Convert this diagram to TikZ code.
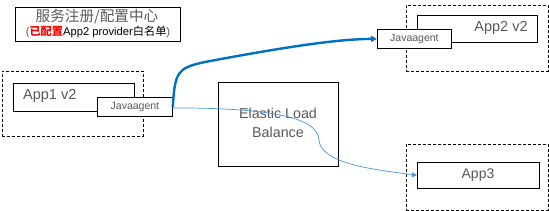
\documentclass[tikz,border=0pt]{standalone}
\usepackage{fontspec}
\setmainfont{Liberation Sans}
\newfontfamily\cjk{Noto Sans CJK SC}
\usetikzlibrary{arrows.meta}
\definecolor{txtgray}{HTML}{595959}
\definecolor{linkblue}{HTML}{0070C0}
\definecolor{thinblue}{HTML}{4A95D6}
\tikzset{
  groupbox/.style={draw=black, line width=0.8pt, dash pattern=on 3pt off 2pt},
  appbox/.style={draw=black, line width=0.8pt, fill=white},
  agentbox/.style={draw=black, line width=0.8pt, fill=white, font=\fontsize{10.5}{12}\selectfont, text=txtgray, inner sep=0pt},
}
\begin{document}
\begin{tikzpicture}[x=1pt,y=-1pt]
\useasboundingbox (0,0) rectangle (549,211);
% title box
\node[draw=black, line width=0.8pt, minimum width=165pt, minimum height=34pt, anchor=north west, inner sep=0pt] (reg) at (15,7) {};
\node[text=txtgray, font=\fontsize{14.6}{15}\selectfont\cjk, inner sep=0pt] (regt) at (97,17) {服务注册/配置中心};
\node[font=\fontsize{11.2}{12}\selectfont, inner sep=0pt] (regs) at (98,32) {\textcolor{txtgray}{(}\textcolor{red}{\cjk\bfseries 已配置}App2 provider{\cjk 白名单}\textcolor{txtgray}{)}};
% App1 group
\node[groupbox, minimum width=141pt, minimum height=65pt, anchor=north west, inner sep=0pt] (g1) at (2,71) {};
\node[appbox, minimum width=121pt, minimum height=28pt, anchor=north west, inner sep=0pt] (a1) at (13,83) {};
\node[text=txtgray, font=\fontsize{14.5}{16}\selectfont, anchor=west, inner sep=0pt] (a1t) at (23,96) {App1 v2};
\node[agentbox, minimum width=75pt, minimum height=19pt, anchor=north west] (j1) at (97,97) {Javaagent};
% App2 group
\node[groupbox, minimum width=142pt, minimum height=66pt, anchor=north west, inner sep=0pt] (g2) at (406,5) {};
\node[appbox, minimum width=120pt, minimum height=27pt, anchor=north west, inner sep=0pt] (a2) at (417,15) {};
\node[text=txtgray, font=\fontsize{14.5}{16}\selectfont, inner sep=0pt] (a2t) at (501,28) {App2 v2};
\node[agentbox, minimum width=74pt, minimum height=19pt, anchor=north west] (j2) at (377,29) {Javaagent};
% ELB
\node[draw=black, line width=0.8pt, minimum width=120pt, minimum height=84pt, anchor=north west, inner sep=0pt] (elb) at (218,82) {};
\node[text=txtgray, font=\fontsize{14.3}{19}\selectfont, align=center, inner sep=0pt] (elbt) at (278,123) {Elastic Load\\Balance};
% App3 group
\node[groupbox, minimum width=142pt, minimum height=66pt, anchor=north west, inner sep=0pt] (g3) at (406,144) {};
\node[appbox, minimum width=122pt, minimum height=26pt, anchor=north west, inner sep=0pt] (a3) at (417,162) {};
\node[text=txtgray, font=\fontsize{14}{16}\selectfont, inner sep=0pt] (a3t) at (478,175) {App3};
% connectors
\draw[linkblue, line width=2.4pt, -{Triangle[length=6pt,width=6pt]}]
  (j1.east) .. controls (175,72) and (177,68) .. (205,62)
  .. controls (290,46) and (340,39) .. (j2.west);
\draw[thinblue, line width=0.7pt, -{Triangle[length=5pt,width=5pt]}]
  ([yshift=-1pt]j1.east) .. controls (260,108) and (318,115) .. (319,140)
  .. controls (321,165) and (380,170) .. (a3.west);
\end{tikzpicture}
\end{document}
